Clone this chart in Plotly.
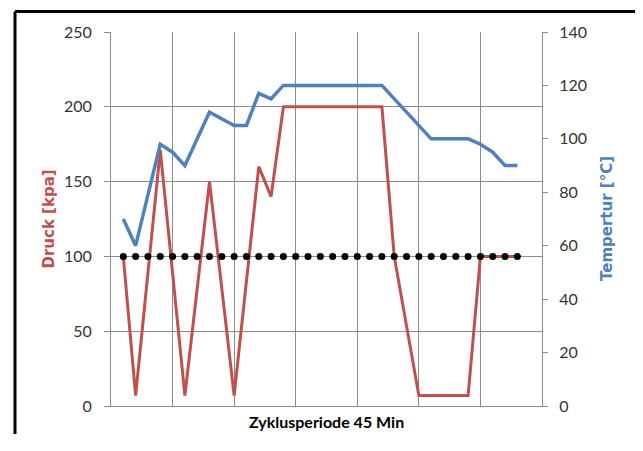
import plotly.graph_objects as go

# Time points (x positions on the cycle axis) and values
druck_x = [1, 2, 4, 6, 8, 10, 12, 13, 14, 22, 23, 25, 29, 30, 33]
druck_y = [100, 7, 171, 7, 150, 7, 160, 140, 200, 200, 100, 7, 7, 100, 100]

temp_x = [1, 2, 4, 5, 6, 8, 10, 11, 12, 13, 14, 22, 26, 29, 30, 31, 32, 33]
temp_y = [70, 60, 98, 95, 90, 110, 105, 105, 117, 115, 120, 120, 100, 100, 98, 95, 90, 90]

soll_x = [1, 2, 3, 4, 5, 6, 7, 8, 9, 10, 11, 12, 13, 14, 15, 16, 17,
          18, 19, 20, 21, 22, 23, 24, 25, 26, 27, 28, 29, 30, 31, 32, 33]
soll_y = [100, 100, 100, 100, 100, 100, 100, 100, 100, 100, 100, 100, 100, 100, 100, 100, 100,
          100, 100, 100, 100, 100, 100, 100, 100, 100, 100, 100, 100, 100, 100, 100, 100]

left_ticks = [0, 50, 100, 150, 200, 250]
right_ticks = [0, 20, 40, 60, 80, 100, 120, 140]

x_title = "Zyklusperiode 45 Min"
y_title = "Druck [kpa]"
y2_title = "Tempertur [°C]"

RED = "#C0504D"
BLUE = "#4F81BD"
GRID = "#8c8c8c"
TICKFONT = dict(family="Lato", size=16, color="#333333")

# page body adds an 8px offset; keep the figure small enough to avoid scrollbars
L, T, PW, PH = 103, 24, 431, 374
W, H = 635, 426


def px(xp):
    return (xp - L) / PW


def py(yp):
    return (T + PH - yp) / PH


fig = go.Figure()
fig.add_trace(go.Scatter(x=druck_x, y=druck_y, mode="lines",
                         line=dict(color=RED, width=3), yaxis="y", showlegend=False))
fig.add_trace(go.Scatter(x=soll_x, y=soll_y, mode="markers",
                         marker=dict(color="black", size=7), yaxis="y", showlegend=False))
fig.add_trace(go.Scatter(x=temp_x, y=temp_y, mode="lines",
                         line=dict(color=BLUE, width=3.5), yaxis="y2", showlegend=False))

border = dict(color="black", width=3)
left_b, right_b, top_b, bot_b = 7, 629, 3.5, 470

fig.update_layout(
    width=W, height=H,
    margin=dict(l=L, r=W - L - PW, t=T, b=H - T - PH),
    paper_bgcolor="white", plot_bgcolor="white",
    xaxis=dict(range=[0, 35], tick0=0, dtick=5, showgrid=True, gridcolor=GRID, gridwidth=1,
               showticklabels=False, showline=True, linecolor=GRID, linewidth=1,
               zeroline=False, ticks=""),
    yaxis=dict(range=[0, 250], tickvals=left_ticks, showgrid=True, gridcolor=GRID, gridwidth=1,
               showline=True, linecolor=GRID, linewidth=1, zeroline=False,
               ticks="outside", ticklen=6, tickcolor=GRID, tickfont=TICKFONT,
               ticklabelstandoff=9),
    yaxis2=dict(range=[0, 140], tickvals=right_ticks, overlaying="y", side="right",
                showgrid=False, showline=True, linecolor=GRID, linewidth=1, zeroline=False,
                ticks="outside", ticklen=5, tickcolor=GRID, tickfont=TICKFONT,
                ticklabelstandoff=8),
    annotations=[
        dict(text=x_title, xref="paper", yref="paper", x=0.5, y=py(413),
             xanchor="center", yanchor="middle", showarrow=False,
             font=dict(family="Lato", size=16, color="black", weight="bold")),
        dict(text=y_title, xref="paper", yref="paper", x=px(40.5), y=0.5, textangle=-90,
             xanchor="center", yanchor="middle", showarrow=False,
             font=dict(family="DejaVu Sans", size=15, color=RED, weight="bold")),
        dict(text=y2_title, xref="paper", yref="paper", x=px(599), y=0.5, textangle=-90,
             xanchor="center", yanchor="middle", showarrow=False,
             font=dict(family="DejaVu Sans", size=15, color=BLUE, weight="bold")),
    ],
    shapes=[
        dict(type="line", xref="paper", yref="paper", x0=px(left_b), x1=px(right_b),
             y0=py(top_b), y1=py(top_b), line=border),
        dict(type="line", xref="paper", yref="paper", x0=px(left_b), x1=px(left_b),
             y0=py(top_b), y1=py(bot_b), line=border),
        dict(type="line", xref="paper", yref="paper", x0=px(right_b), x1=px(right_b),
             y0=py(top_b), y1=py(bot_b), line=border),
    ],
)

fig.write_html("out.html", config={"displayModeBar": False})
